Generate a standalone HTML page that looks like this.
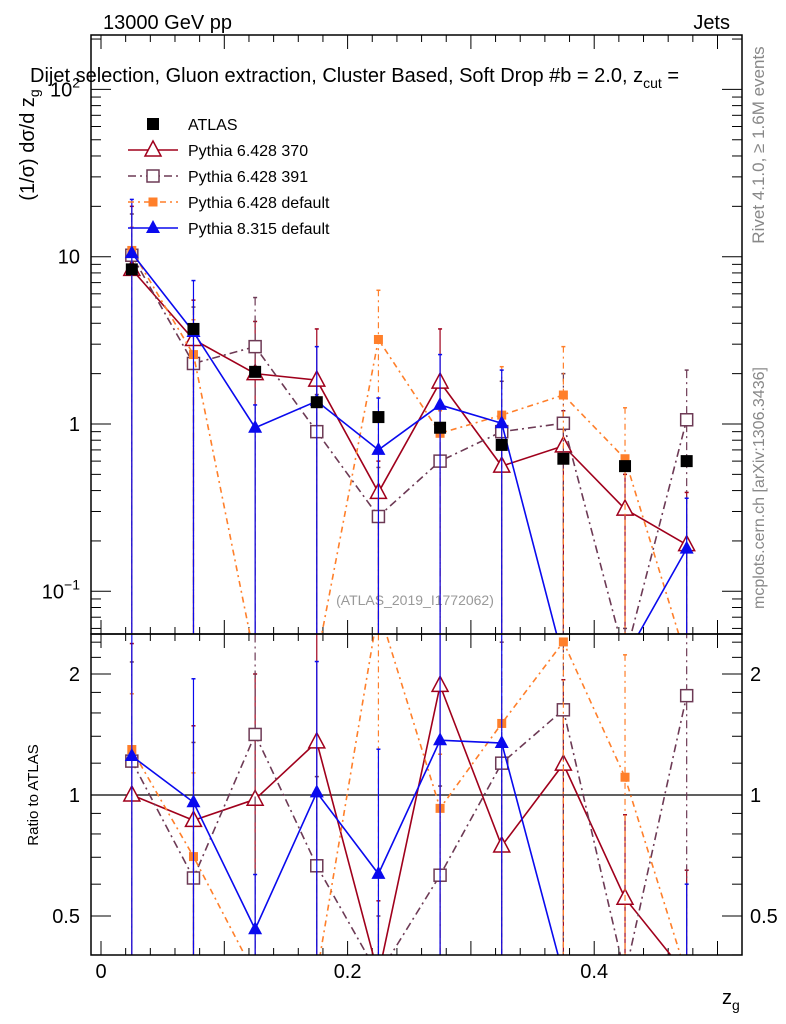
<!DOCTYPE html>
<html><head><meta charset="utf-8"><style>
html,body{margin:0;background:#fff;overflow:hidden;width:786px;height:1024px}
svg{display:block;font-family:"Liberation Sans",sans-serif}
</style></head><body>
<svg id="chart" width="786" height="1024" viewBox="0 0 786 1024" xmlns="http://www.w3.org/2000/svg">
<defs>
<clipPath id="cm"><rect x="91" y="35" width="651" height="599"/></clipPath>
<clipPath id="cr"><rect x="91" y="634" width="651" height="321"/></clipPath>
</defs>
<text x="103" y="29" font-size="20">13000 GeV pp</text>
<text x="730" y="29" font-size="20" text-anchor="end">Jets</text>
<text x="30" y="82" font-size="20">Dijet selection, Gluon extraction, Cluster Based, Soft Drop #b = 2.0, z<tspan font-size="14" dy="6">cut</tspan><tspan dy="-6"> =</tspan></text>
<text transform="translate(34,145) rotate(-90)" font-size="20" text-anchor="middle">(1/σ) dσ/d z<tspan font-size="14" dy="5">g</tspan></text>
<text transform="translate(764,145) rotate(-90)" font-size="17" fill="#888" text-anchor="middle">Rivet 4.1.0, ≥ 1.6M events</text>
<text transform="translate(764,488) rotate(-90)" font-size="16" fill="#888" text-anchor="middle">mcplots.cern.ch [arXiv:1306.3436]</text>
<text x="415" y="605" font-size="14" fill="#999" text-anchor="middle">(ATLAS_2019_I1772062)</text>
<text transform="translate(38,795) rotate(-90)" font-size="15" text-anchor="middle">Ratio to ATLAS</text>
<text x="722" y="1004" font-size="20">z<tspan font-size="14" dy="6">g</tspan></text>
<g id="axes"></g>
<g id="series-main" clip-path="url(#cm)"></g>
<g id="series-ratio" clip-path="url(#cr)"></g>
<rect x="91" y="35" width="651" height="599" fill="none" stroke="#000" stroke-width="1.5"/>
<rect x="91" y="634" width="651" height="321" fill="none" stroke="#000" stroke-width="1.5"/>
<g id="legend"></g>
</svg>
<script>
const categories=[0.025,0.075,0.125,0.175,0.225,0.275,0.325,0.375,0.425,0.475];
const atlasValues=[8.4,3.7,2.05,1.35,1.1,0.95,0.75,0.62,0.56,0.6];
const p370Values=[8.4,3.2,2.0,1.83,0.39,1.78,0.56,0.74,0.31,0.19];
const p370Up=[20,5.5,4.1,3.7,0.6,3.7,0.9,1.2,0.5,0.39];
const p391Values=[10.2,2.3,2.9,0.9,0.28,0.6,0.9,1.01,0.04,1.06];
const p391Up=[18,5.0,5.7,1.5,0.55,1.0,1.8,2.0,0.06,2.1];
const p6defValues=[10.9,2.6,0.03,0.03,3.2,0.88,1.13,1.49,0.62,0.03];
const p6defUp=[15,4.2,0.05,0.05,6.3,1.2,2.2,2.9,1.25,0.05];
const p8Values=[10.5,3.55,0.95,1.37,0.7,1.3,1.01,0.03,0.04,0.18];
const p8Up=[22,7.2,1.3,2.9,1.43,2.6,2.1,0.05,0.05,0.36];
const xTickLabels=["0","0.2","0.4"];
const mainYTicks=[100,10,1,0.1];
const ratioYTicks=[2,1,0.5];

const NS="http://www.w3.org/2000/svg";
const X=z=>101+1233*z;
const YM=v=>Math.min(424-167.3*Math.log10(Math.max(v,1e-4)),660);
const YR=r=>Math.min(795-121*Math.log2(Math.max(r,1e-4)),975);
function mk(tag,attrs,parent){const e=document.createElementNS(NS,tag);for(const k in attrs)e.setAttribute(k,attrs[k]);parent.appendChild(e);return e;}
const axes=document.getElementById('axes');
for(let i=0;i<=26;i++){const z=i*0.02;const x=X(z);if(x>742)break;const major=(i%5===0);const L=major?14:7;
 for(const [yb,yt] of [[634,35],[955,634]]){
  const t1=mk('line',{x1:x,x2:x,y1:yb,y2:yb-L,stroke:'#000'},axes);
  
  
  const t2=mk('line',{x1:x,x2:x,y1:yt,y2:yt+L,stroke:'#000'},axes);
  
  
 }}
xTickLabels.forEach((s,i)=>{const t=mk('text',{x:X(i*0.2),y:978,'font-size':20,'text-anchor':'middle'},axes);t.textContent=s;
 
 });
for(let e=-2;e<=2;e++){for(let m=1;m<10;m++){const v=m*Math.pow(10,e);const y=424-167.3*Math.log10(v);if(y<35||y>634)continue;const L=m===1?20:10;
 const a=mk('line',{x1:91,x2:91+L,y1:y,y2:y,stroke:'#000'},axes);
 
 
 const b=mk('line',{x1:742,x2:742-L,y1:y,y2:y,stroke:'#000'},axes);
 
 }}
mainYTicks.forEach(v=>{const y=YM(v);const t=mk('text',{x:80,y:y+7,'font-size':20,'text-anchor':'end'},axes);
 const e=Math.round(Math.log10(v));
 if(e===1)t.textContent='10';else if(e===0)t.textContent='1';else{t.textContent='10';const s=mk('tspan',{dy:-9,'font-size':14},t);s.textContent=(e<0?'−':'')+Math.abs(e);}
 
 });
[0.4,0.5,0.6,0.7,0.8,0.9,1,1.2,1.4,1.6,1.8,2,2.2,2.4].forEach(r=>{const y=YR(r);const major=ratioYTicks.includes(r);const L=major?20:10;
 const a=mk('line',{x1:91,x2:91+L,y1:y,y2:y,stroke:'#000'},axes);
 
 
 const b=mk('line',{x1:742,x2:742-L,y1:y,y2:y,stroke:'#000'},axes);
 
 });
ratioYTicks.forEach(r=>{const y=YR(r)+7;
 const t=mk('text',{x:80,y:y,'font-size':20,'text-anchor':'end'},axes);t.textContent=String(r);
 
 
 const t2=mk('text',{x:750,y:y,'font-size':20},axes);t2.textContent=String(r);
 
 });
const ref=mk('line',{x1:91,x2:742,y1:YR(1),y2:YR(1),stroke:'#000','stroke-width':1.2},axes);



function marker(g,type,x,y,color){let e;
 if(type==='sq')e=mk('rect',{x:x-6,y:y-6,width:12,height:12,fill:color},g);
 else if(type==='ssq')e=mk('rect',{x:x-4.5,y:y-4.5,width:9,height:9,fill:color},g);
 else if(type==='osq')e=mk('rect',{x:x-6,y:y-6,width:12,height:12,fill:'#fff',stroke:color,'stroke-width':1.5},g);
 else if(type==='otri')e=mk('path',{d:`M${x},${y-9}L${x+8},${y+6}L${x-8},${y+6}Z`,fill:'#fff',stroke:color,'stroke-width':1.5},g);
 else e=mk('path',{d:`M${x},${y-8}L${x+7},${y+5}L${x-7},${y+5}Z`,fill:color},g);
 return e;}
const series=[
 {name:'pythia6-370',vals:p370Values,up:p370Up,color:'#a0001c',dash:'',m:'otri'},
 {name:'pythia6-391',vals:p391Values,up:p391Up,color:'#6d3a55',dash:'8,4,2,4',m:'osq'},
 {name:'pythia6-default',vals:p6defValues,up:p6defUp,color:'#ff7f2a',dash:'6,4,2,4',m:'ssq'},
 {name:'pythia8-default',vals:p8Values,up:p8Up,color:'#0a0aee',dash:'',m:'ftri'}];
const gm=document.getElementById('series-main'), gr=document.getElementById('series-ratio');
series.forEach(s=>{
 [[gm,YM,s.vals,s.up,634],[gr,YR,s.vals.map((v,i)=>v/atlasValues[i]),s.up.map((v,i)=>v/atlasValues[i]),955]].forEach(([g,Y,vals,ups,yb],pi)=>{
  const grp=mk('g',{},g);
  
  
  categories.forEach((z,i)=>{const x=X(z);
   const eb=mk('line',{x1:x,x2:x,y1:Math.min(Y(ups[i]),yb),y2:yb,stroke:s.color,'stroke-width':1.2,'stroke-dasharray':s.dash},grp);
   
   
   const cap=mk('line',{x1:x-2,x2:x+2,y1:Y(ups[i]),y2:Y(ups[i]),stroke:s.color,'stroke-width':1.5},grp);
   
   });
  const pl=mk('polyline',{points:categories.map((z,i)=>X(z)+','+Y(vals[i])).join(' '),fill:'none',stroke:s.color,'stroke-width':1.6,'stroke-dasharray':s.dash},grp);
  
  
  categories.forEach((z,i)=>{const mm=marker(grp,s.m,X(z),Y(vals[i]),s.color);
   
   });
 });});
const ga=mk('g',{},gm);


categories.forEach((z,i)=>{const mm=marker(ga,'sq',X(z),YM(atlasValues[i]),'#000');
 
 });
const lg=document.getElementById('legend');
const entries=[['ATLAS','#000','','sq'],['Pythia 6.428 370','#a0001c','','otri'],['Pythia 6.428 391','#6d3a55','8,4,2,4','osq'],['Pythia 6.428 default','#ff7f2a','6,4,2,4','ssq'],['Pythia 8.315 default','#0a0aee','','ftri']];
entries.forEach((e,i)=>{const y=124+26*i;const g=mk('g',{},lg);
 
 
 if(i>0)mk('line',{x1:128,x2:178,y1:y,y2:y,stroke:e[1],'stroke-width':1.6,'stroke-dasharray':e[2]},g);
 marker(g,e[3],153,y,e[1]);
 const t=mk('text',{x:188,y:y+6,'font-size':16},g);t.textContent=e[0];});
</script>
</body></html>
